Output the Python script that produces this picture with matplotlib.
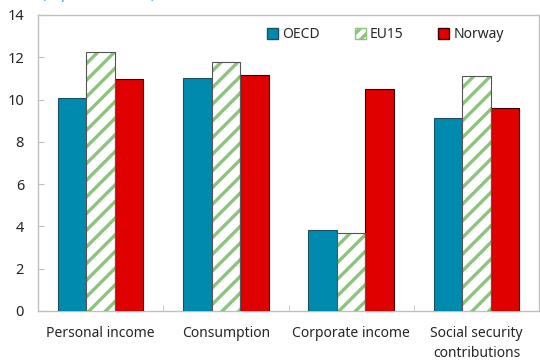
import numpy as np
import matplotlib
matplotlib.use("Agg")
import matplotlib.pyplot as plt
from matplotlib.patches import Patch

plt.rcParams["font.family"] = ["Noto Sans", "DejaVu Sans"]
plt.rcParams["hatch.linewidth"] = 2.4

# Tax revenue change by base (% points of GDP)
categories = ["Personal income", "Consumption", "Corporate income", "Social security\ncontributions"]
oecd = [10.08, 11.02, 3.82, 9.15]
eu15 = [12.24, 11.76, 3.70, 11.12]
norway = [10.99, 11.15, 10.50, 9.59]
y_ticks = [0, 2, 4, 6, 8, 10, 12, 14]

BLUE = "#008BAE"
GREEN = "#8CC47C"
RED = "#E00000"
FRAME = "#BFBFBF"
TEXT = "#262626"

fig = plt.figure(figsize=(5.4, 3.6), dpi=100)
ax = fig.add_axes([38 / 540, 49 / 360, 501 / 540, 296 / 360])

x = np.arange(len(categories))
w = 0.228

ax.bar(x - w, oecd, w, color=BLUE, edgecolor="#1F4E5F", linewidth=0.8, zorder=3)
# hatched bars: stripes first, then a separate outline
ax.bar(x, eu15, w, color="white", edgecolor=GREEN, hatch="//", linewidth=0, zorder=3)
ax.bar(x, eu15, w, fill=False, edgecolor="#555555", linewidth=0.8, zorder=4)
ax.bar(x + w, norway, w, color=RED, edgecolor="#3A0000", linewidth=0.8, zorder=3)

ax.set_xlim(-0.5, len(categories) - 0.5)
ax.set_ylim(0, 14)
ax.set_yticks(y_ticks)
ax.set_xticks(x)
ax.set_xticklabels(categories, fontsize=10, color=TEXT, linespacing=1.45)
ax.set_xticks(np.arange(0.5, len(categories) - 1, 1.0), minor=True)
ax.tick_params(axis="x", which="major", length=0, pad=11)
ax.tick_params(axis="x", which="minor", direction="in", length=4, color=FRAME)
ax.tick_params(axis="y", direction="in", length=4, color=FRAME, labelsize=10.5,
               labelcolor=TEXT, pad=10)
for s in ax.spines.values():
    s.set_color(FRAME)
    s.set_linewidth(1.0)

handles = [
    Patch(facecolor=BLUE, edgecolor="#1F4E5F", label="OECD"),
    Patch(facecolor="white", edgecolor=GREEN, hatch="///", label="EU15"),
    Patch(facecolor=RED, edgecolor="#3A0000", label="Norway"),
]
ax.legend(handles=handles, loc="upper right", bbox_to_anchor=(0.955, 1.0), ncol=3,
          frameon=False, fontsize=10, handlelength=0.8, handleheight=0.8,
          handletextpad=0.3, columnspacing=2.5, labelcolor=TEXT)

fig.text(0.078, 1.005, "(% points of GDP)", color="#3DA8D8", fontsize=10,
         ha="left", va="baseline")

fig.savefig("out.png", dpi=100)
